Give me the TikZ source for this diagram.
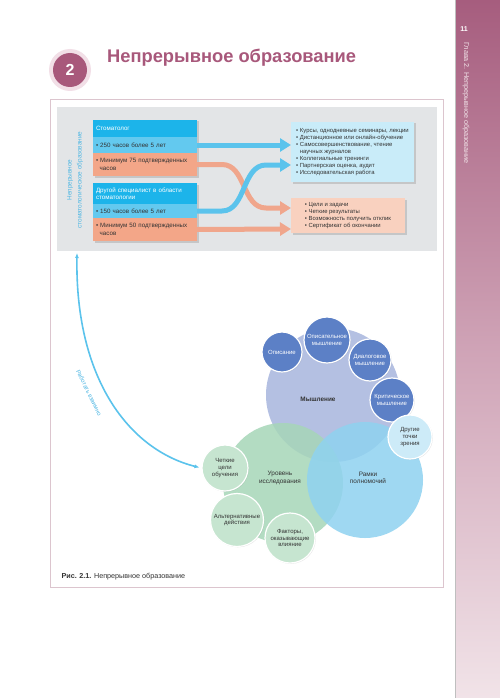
\documentclass[tikz,border=0pt]{standalone}
\usepackage{fontspec}
\setmainfont{Liberation Sans}
\setsansfont{Liberation Sans}
\usetikzlibrary{arrows.meta,shadows}
\definecolor{eduMauve}{HTML}{A8587B}
\definecolor{eduHalo}{HTML}{F2DFE7}
\definecolor{eduSideTop}{HTML}{A65D7E}
\definecolor{eduSideBot}{HTML}{F1E3E8}
\definecolor{eduFrame}{HTML}{DCC5CE}
\definecolor{eduPanel}{HTML}{E3E5E7}
\definecolor{eduCyan}{HTML}{1CB4EA}
\definecolor{eduSky}{HTML}{63C9EF}
\definecolor{eduSalmon}{HTML}{F3A688}
\definecolor{eduSoftBlue}{HTML}{C9ECF9}
\definecolor{eduSoftSalmon}{HTML}{F9D1BF}
\definecolor{eduBandBlue}{HTML}{5BC3EC}
\definecolor{eduBandOrange}{HTML}{F0A68C}
\definecolor{eduVert}{HTML}{4DB6E3}
\definecolor{eduThink}{HTML}{A7B5DE}
\definecolor{eduThinkDark}{HTML}{5C80C6}
\definecolor{eduGreen}{HTML}{A6D6B8}
\definecolor{eduGreenSoft}{HTML}{C6E5D0}
\definecolor{eduScope}{HTML}{8FD2F0}
\definecolor{eduScopeSoft}{HTML}{CDEBF8}
\definecolor{eduText}{HTML}{333333}

\begin{document}
\begin{tikzpicture}[x=1pt,y=-1pt,
  font=\sffamily,
  row/.style={minimum width=104pt,text width=98pt,inner xsep=3pt,inner ysep=1pt,align=left,
    text=eduText,font=\sffamily\fontsize{6.2}{7.4}\selectfont,
    drop shadow={shadow xshift=1.5pt,shadow yshift=-1.5pt,opacity=0.3}},
  hdr/.style={row,fill=eduCyan,text=white},
  hrs/.style={row,fill=eduSky},
  minh/.style={row,fill=eduSalmon},
  listbox/.style={align=left,inner xsep=3pt,text=eduText,font=\sffamily\fontsize{5.9}{6.9}\selectfont,
    drop shadow={shadow xshift=1.5pt,shadow yshift=-1.5pt,opacity=0.3}},
  bandB/.style={-{Triangle[length=11pt,width=13pt]},draw=eduBandBlue,line width=5pt},
  bandO/.style={-{Triangle[length=11pt,width=13pt]},draw=eduBandOrange,line width=5pt},
  big/.style={circle,inner sep=0pt,fill opacity=0.85},
  small/.style={circle,inner sep=0pt,draw=white,line width=1.2pt,align=center,
    font=\sffamily\fontsize{6}{6.8}\selectfont,
    drop shadow={shadow xshift=0.8pt,shadow yshift=-0.8pt,opacity=0.2}},
  bigtxt/.style={align=center,text=eduText,font=\sffamily\fontsize{6.4}{7.4}\selectfont}
]
\useasboundingbox (0,0) rectangle (500,698);
\fill[white] (0,0) rectangle (500,698);
% sidebar
\shade[top color=eduSideTop,bottom color=eduSideBot,middle color=eduMauve!55!white] (455,0) rectangle (500,698);
\draw[black!25,line width=0.6pt] (455,0) -- (455,698);
\node[text=white,font=\sffamily\bfseries\fontsize{7}{8}\selectfont] (page) at (464,29) {11};
\node[rotate=-90,text=eduSideBot,font=\sffamily\fontsize{7.2}{8}\selectfont] (chap) at (466,103) {Глава 2. Непрерывное образование};

% title
\node[circle,fill=eduHalo,minimum size=42pt] (halo) at (70,70) {};
\node[circle,fill=eduMauve,minimum size=34pt,text=white,font=\sffamily\bfseries\fontsize{16}{18}\selectfont] (num) at (70,70) {2};
\node[anchor=west,text=eduMauve,font=\sffamily\bfseries\fontsize{18.3}{22}\selectfont,inner sep=0pt] (title) at (107,58) {Непрерывное образование};

% figure frame and panel
\draw[eduFrame,line width=1pt,fill=white,drop shadow={shadow xshift=1pt,shadow yshift=-1pt,opacity=0.15}] (50,100) rectangle (443,587);
\fill[eduPanel] (57,107) rectangle (437,251);
\node[rotate=90,align=center,text=eduVert,font=\sffamily\fontsize{6.4}{10}\selectfont] (vert) at (75,180) {Непрерывное\\стоматологическое образование};

% left column
\node[hdr,minimum height=17pt] (sto) at (145,128.5) {Стоматолог};
\node[hrs,minimum height=16pt] (h250) at (145,145) {• 250 часов более 5 лет};
\node[minh,minimum height=23pt] (m75) at (145,164.5) {• Минимум 75 подтвержденных\\\hspace*{0.6em}часов};
\node[hdr,minimum height=21pt] (other) at (145,193.5) {Другой специалист в области\\стоматологии};
\node[hrs,minimum height=14pt] (h150) at (145,211) {• 150 часов более 5 лет};
\node[minh,minimum height=23pt] (m50) at (145,229.5) {• Минимум 50 подтвержденных\\\hspace*{0.6em}часов};

% right column
\node[listbox,fill=eduSoftBlue,minimum width=123pt,minimum height=60pt] (forms) at (352.5,152) {%
• Курсы, однодневные семинары, лекции\\
• Дистанционное или онлайн-обучение\\
• Самосовершенствование, чтение\\
\hspace*{0.6em}научных журналов\\
• Коллегиальные тренинги\\
• Партнерская оценка, аудит\\
• Исследовательская работа};
\node[listbox,fill=eduSoftSalmon,minimum width=114pt,minimum height=35pt] (reqs) at (348,215.5) {%
• Цели и задачи\\
• Четкие результаты\\
• Возможность получить отклик\\
• Сертификат об окончании};

\coordinate (o1) at (291,208);
\coordinate (o2) at (291,229);
\coordinate (b1) at (291,145);
\coordinate (b2) at (291,165);
\draw[bandO] (m75.east) -- (222,164.5) .. controls (246,164.5) and (242,208) .. (266,208) -- (o1);
\draw[bandO] (m50.east) -- (o2);
\draw[bandB] (h250.east) -- (b1);
\draw[bandB] (h150.east) -- (222,211) .. controls (246,211) and (242,165) .. (266,165) -- (b2);

% venn
\node[big,fill=eduThink,minimum size=134pt] (think) at (333,395) {};
\node[big,fill=eduGreen,minimum size=120pt] (inquiry) at (283,483) {};
\node[big,fill=eduScope,minimum size=116pt] (scope) at (365,480) {};
\node[bigtxt] (thinkT) at (318,399) {\textbf{Мышление}};
\node[bigtxt] (inquiryT) at (280,478) {Уровень\\исследования};
\node[bigtxt] (scopeT) at (368,478) {Рамки\\полномочий};

\node[small,fill=eduThinkDark,text=white,minimum size=40pt] (descr) at (282,352) {Описание};
\node[small,fill=eduThinkDark,text=white,minimum size=46pt] (descth) at (327,340) {Описательное\\мышление};
\node[small,fill=eduThinkDark,text=white,minimum size=42pt] (dialog) at (370,360) {Диалоговое\\мышление};
\node[small,fill=eduThinkDark,text=white,minimum size=44pt] (crit) at (392,400) {Критическое\\мышление};
\node[small,fill=eduScopeSoft,text=eduText,minimum size=44pt] (views) at (410,437) {Другие\\точки\\зрения};
\node[small,fill=eduGreenSoft,text=eduText,minimum size=46pt] (goals) at (225,468) {Четкие\\цели\\обучения};
\node[small,fill=eduGreenSoft,text=eduText,minimum size=53pt] (alter) at (237,520) {Альтернативные\\действия};
\node[small,fill=eduGreenSoft,text=eduText,minimum size=50pt] (factors) at (290,538) {Факторы,\\оказывающие\\влияние};

% mutual link
\coordinate (top) at (77,253);
\draw[{Latex[length=5pt,width=4pt]}-{Latex[length=5pt,width=4pt]},draw=eduBandBlue,line width=1.6pt,shorten >=2pt]
  (top) .. controls (75,380) and (130,450) .. (goals.west);
\node[rotate=-64,text=eduVert,font=\sffamily\fontsize{6}{7}\selectfont] (mutual) at (89,393) {Работать взаимно};

% caption
\node[anchor=west,text=eduText,font=\sffamily\fontsize{7.2}{8.5}\selectfont] (cap) at (58,577) {\textbf{Рис. 2.1.} Непрерывное образование};
\end{tikzpicture}
\end{document}
